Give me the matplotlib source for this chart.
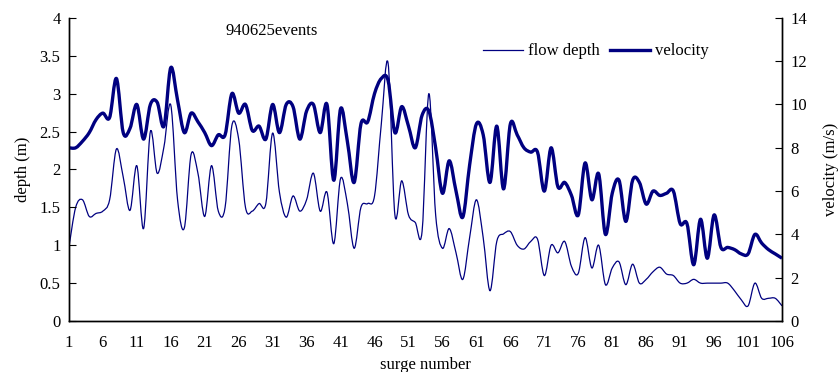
import numpy as np
import matplotlib
matplotlib.use('Agg')
import matplotlib.pyplot as plt
from matplotlib.path import Path
from matplotlib.patches import PathPatch
from matplotlib.lines import Line2D

plt.rcParams['font.family'] = ['Liberation Serif', 'DejaVu Serif']

# surge numbers 1..106
surge = np.arange(1, 107)

flow_depth = [
    0.97, 1.50, 1.60, 1.38, 1.42, 1.45, 1.60, 2.27, 1.90, 1.46,
    2.05, 1.22, 2.50, 1.95, 2.30, 2.85, 1.60, 1.23, 2.20, 1.95,
    1.38, 2.05, 1.45, 1.50, 2.58, 2.40, 1.50, 1.45, 1.55, 1.55,
    2.48, 1.70, 1.37, 1.65, 1.45, 1.60, 1.95, 1.45, 1.70, 1.02,
    1.88, 1.55, 0.96, 1.50, 1.55, 1.65, 2.60, 3.40, 1.40, 1.85,
    1.40, 1.30, 1.18, 3.00, 1.40, 0.96, 1.22, 0.90, 0.55, 1.10,
    1.60, 1.10, 0.40, 1.05, 1.15, 1.18, 1.00, 0.95, 1.05, 1.08,
    0.60, 1.00, 0.90, 1.05, 0.72, 0.63, 1.10, 0.70, 1.00, 0.48,
    0.70, 0.78, 0.48, 0.75, 0.50, 0.55, 0.65, 0.71, 0.62, 0.60,
    0.50, 0.50, 0.55, 0.50, 0.50, 0.50, 0.50, 0.50, 0.40, 0.28,
    0.20, 0.50, 0.30, 0.30, 0.30, 0.20,
]

velocity = [
    8.0, 8.0, 8.3, 8.7, 9.3, 9.6, 9.4, 11.2, 8.7, 8.9,
    10.0, 8.4, 10.0, 10.1, 9.0, 11.7, 10.2, 8.7, 9.6, 9.2,
    8.7, 8.1, 8.6, 8.6, 10.5, 9.6, 10.0, 8.8, 9.0, 8.4,
    10.0, 8.7, 10.0, 9.9, 8.4, 9.7, 10.0, 8.7, 10.0, 6.5,
    9.8, 8.3, 6.4, 9.1, 9.2, 10.5, 11.2, 11.1, 8.7, 9.9,
    9.0, 8.0, 9.5, 9.7, 8.0, 5.9, 7.4, 6.0, 4.8, 7.2,
    9.1, 8.6, 6.4, 9.0, 6.1, 9.1, 8.6, 8.0, 7.8, 7.8,
    6.0, 8.0, 6.2, 6.4, 5.8, 4.9, 7.3, 5.6, 6.8, 4.0,
    5.9, 6.5, 4.6, 6.5, 6.4, 5.4, 6.0, 5.8, 5.9, 6.0,
    4.5, 4.5, 2.6, 4.7, 2.9, 4.9, 3.4, 3.4, 3.3, 3.1,
    3.1, 4.0, 3.6, 3.3, 3.1, 2.9,
]

depth_ticks = [0, 0.5, 1, 1.5, 2, 2.5, 3, 3.5, 4]
depth_labels = ['0', '0.5', '1', '1.5', '2', '2.5', '3', '3.5', '4']
vel_ticks = [0, 2, 4, 6, 8, 10, 12, 14]
x_ticks = list(range(1, 107, 5))

navy = '#000080'


def smooth_path(x, y, t=1/6):
    # Excel-like smoothed line: Catmull-Rom as cubic Bezier segments
    p = np.column_stack([x, y]).astype(float)
    ext = np.vstack([p[0], p, p[-1]])
    verts = [p[0]]
    codes = [Path.MOVETO]
    for i in range(len(p) - 1):
        p0, p1, p2, p3 = ext[i], ext[i + 1], ext[i + 2], ext[i + 3]
        c1 = p1 + (p2 - p0) * t
        c2 = p2 - (p3 - p1) * t
        verts += [c1, c2, p2]
        codes += [Path.CURVE4] * 3
    return Path(verts, codes)


fig = plt.figure(figsize=(8.4, 3.72), dpi=100)
ax = fig.add_axes([0.082, 0.137, 0.849, 0.815])
ax2 = ax.twinx()

ax.add_patch(PathPatch(smooth_path(surge, flow_depth), fill=False,
                       edgecolor=navy, linewidth=0.9))
ax2.add_patch(PathPatch(smooth_path(surge, velocity), fill=False,
                        edgecolor=navy, linewidth=2.4, joinstyle='round'))

ax.set_xlim(1, 106)
ax.set_ylim(0, 4)
ax2.set_ylim(0, 14)

ax.set_xticks(x_ticks)
ax.set_yticks(depth_ticks)
ax.set_yticklabels(depth_labels)
ax2.set_yticks(vel_ticks)

fs = 12
for a in (ax, ax2):
    a.spines['top'].set_visible(False)
    for s in ('left', 'right', 'bottom'):
        a.spines[s].set_linewidth(1.0)
ax.tick_params(axis='x', length=0, labelsize=fs, pad=10)
ax.tick_params(axis='y', direction='in', length=5, labelsize=fs, pad=6)
ax2.tick_params(axis='y', direction='in', length=5, labelsize=fs, pad=6)

ax.set_xlabel('surge number', fontsize=fs, va='center')
ax.xaxis.set_label_coords(0.5, -0.145)
ax.set_ylabel('depth (m)', fontsize=fs, va='center')
ax.yaxis.set_label_coords(-0.065, 0.5)
ax2.set_ylabel('velocity (m/s)', fontsize=fs, va='center', rotation=90)
ax2.yaxis.set_label_coords(1.068, 0.5)

ax.text(0.285, 0.955, '940625events', transform=ax.transAxes,
        fontsize=fs, ha='center', va='center')

handles = [Line2D([], [], color=navy, lw=0.9),
           Line2D([], [], color=navy, lw=2.4)]
ax.legend(handles, ['flow depth', 'velocity'], loc='upper left',
          bbox_to_anchor=(0.56, 0.965), ncol=2, frameon=False, fontsize=fs,
          handlelength=2.4, handletextpad=0.3, columnspacing=0.6)

fig.savefig('out.png', dpi=100)
